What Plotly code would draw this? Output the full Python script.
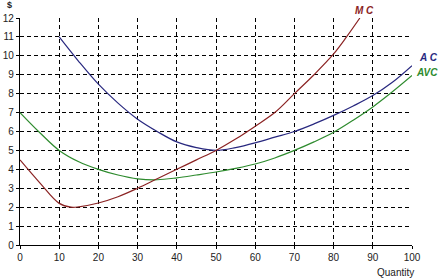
import plotly.graph_objects as go

mc_q = [0, 5, 10, 13, 15, 20, 25, 30, 35, 40, 45, 50, 55, 60, 65, 70, 75, 80, 83.3, 86.7]
mc_v = [4.5, 3.3, 2.2, 2.0, 2.02, 2.22, 2.55, 3.0, 3.5, 4.0, 4.5, 5.0, 5.6, 6.28, 7.0, 8.0, 9.0, 10.1, 11.0, 12.0]

ac_q = [10, 15, 20, 25, 30, 35, 40, 45, 50, 55, 60, 65, 70, 75, 80, 85, 90, 95, 100]
ac_v = [11.0, 9.7, 8.5, 7.5, 6.65, 6.0, 5.45, 5.15, 5.0, 5.15, 5.4, 5.7, 6.0, 6.4, 6.85, 7.35, 7.9, 8.6, 9.48]

avc_q = [0, 5, 10, 15, 20, 25, 30, 35, 40, 45, 50, 55, 60, 65, 70, 75, 80, 85, 90, 95, 100]
avc_v = [7.0, 5.95, 5.0, 4.4, 4.0, 3.7, 3.5, 3.45, 3.55, 3.7, 3.86, 4.05, 4.28, 4.6, 5.0, 5.45, 5.96, 6.6, 7.3, 8.1, 8.96]

x_ticks = [0, 10, 20, 30, 40, 50, 60, 70, 80, 90, 100]
y_ticks = list(range(0, 13))

mc_color = "#8B2323"
ac_color = "#28287F"
avc_color = "#2E8B2E"

fig = go.Figure()
fig.add_trace(go.Scatter(x=avc_q, y=avc_v, mode="lines", line=dict(color=avc_color, width=1.2, shape="spline"), hoverinfo="skip"))
fig.add_trace(go.Scatter(x=ac_q, y=ac_v, mode="lines", line=dict(color=ac_color, width=1.2, shape="spline"), hoverinfo="skip"))
fig.add_trace(go.Scatter(x=mc_q, y=mc_v, mode="lines", line=dict(color=mc_color, width=1.2, shape="spline"), hoverinfo="skip"))

font = "Liberation Sans, Arial, sans-serif"
axis_common = dict(
    showgrid=True, gridcolor="black", gridwidth=1, griddash="4px,3px",
    showline=True, linecolor="black", linewidth=1.3, mirror=False,
    zeroline=False, ticks="outside", ticklen=3, tickcolor="black",
    tickfont=dict(family=font, size=10, color="#222"), automargin=False,
)
fig.update_xaxes(range=[0, 100], tickvals=x_ticks, **axis_common)
fig.update_yaxes(range=[0, 12], tickvals=y_ticks, **axis_common)

def ann(x, y, text, color, size=10, xanchor="center", yanchor="middle"):
    fig.add_annotation(x=x, y=y, xref="paper", yref="paper", text=text, showarrow=False,
                       xanchor=xanchor, yanchor=yanchor,
                       font=dict(family=font, size=size, color=color))

ann(0.879, 1.034, "<b><i>M C</i></b>", mc_color)
ann(1.012, 0.824, "<b><i>A C</i></b>", ac_color, xanchor="left")
ann(1.005, 0.758, "<b><i>AVC</i></b>", avc_color, xanchor="left")
ann(-0.027, 1.057, "<b>$</b>", "#222", size=9)
ann(0.958, -0.119, "Quantity", "#222")

fig.update_layout(
    width=439, height=279,
    margin=dict(l=20, r=27, t=18, b=34),
    paper_bgcolor="white", plot_bgcolor="white",
    showlegend=False,
)

fig.write_html("out.html")
